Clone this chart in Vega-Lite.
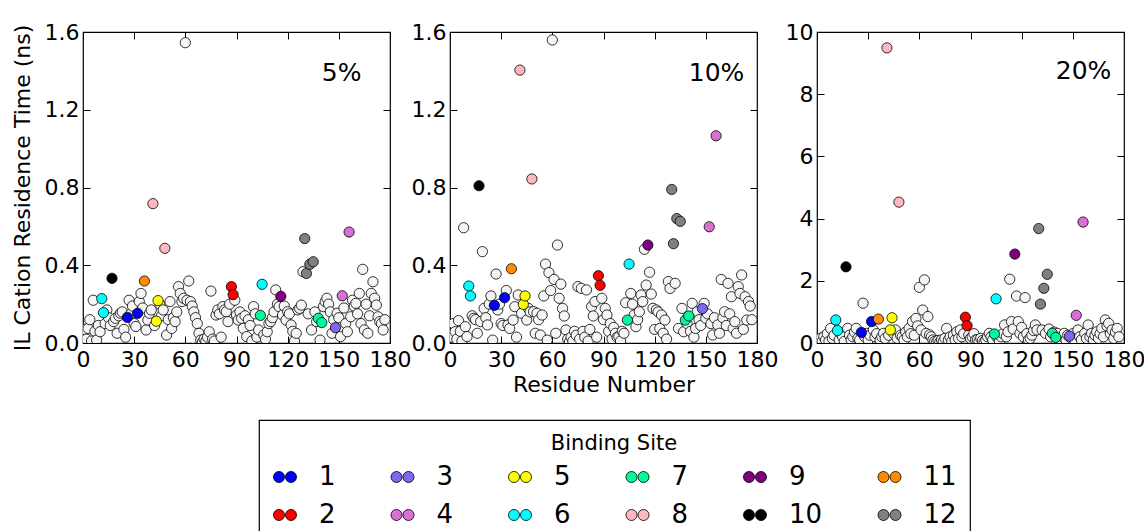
{
 "$schema": "https://vega.github.io/schema/vega-lite/v6.json",
 "background": "white",
 "padding": {"left": 10, "top": 20, "right": 0, "bottom": 0},
 "bounds": "flush",
 "spacing": 60,
 "datasets": {
  "p5": [
   {"r":1,"t":0.07},{"r":2,"t":0.02},{"r":3,"t":0.075},{"r":4,"t":0.12},{"r":5,"t":0.01},{"r":6,"t":0.22},{"r":7,"t":0.06},{"r":8,"t":0.015},{"r":9,"t":0.09},{"r":10,"t":0.058},
   {"r":11,"t":0.228,"s":6},{"r":12,"t":0.156,"s":6},{"r":13,"t":0.10},{"r":14,"t":0.17},{"r":15,"t":0.13},{"r":16,"t":0.09},{"r":17,"t":0.333,"s":10},{"r":18,"t":0.11},{"r":19,"t":0.127},{"r":20,"t":0.05},
   {"r":21,"t":0.14},{"r":22,"t":0.153},{"r":23,"t":0.16},{"r":24,"t":0.07},{"r":25,"t":0.03},{"r":26,"t":0.132,"s":1},{"r":27,"t":0.22},{"r":28,"t":0.15},{"r":29,"t":0.19},{"r":30,"t":0.10},
   {"r":31,"t":0.085},{"r":32,"t":0.153,"s":1},{"r":33,"t":0.213},{"r":34,"t":0.255},{"r":35,"t":0.18},{"r":36,"t":0.319,"s":11},{"r":37,"t":0.067},{"r":38,"t":0.118},{"r":39,"t":0.153},{"r":40,"t":0.17},
   {"r":41,"t":0.717,"s":8},{"r":42,"t":0.09},{"r":43,"t":0.112,"s":5},{"r":44,"t":0.218,"s":5},{"r":45,"t":0.20},{"r":46,"t":0.14},{"r":47,"t":0.17},{"r":48,"t":0.487,"s":8},{"r":49,"t":0.041},{"r":50,"t":0.12},
   {"r":51,"t":0.213},{"r":52,"t":0.075},{"r":53,"t":0.13},{"r":54,"t":0.11},{"r":55,"t":0.16},{"r":56,"t":0.29},{"r":57,"t":0.255},{"r":58,"t":0.213},{"r":59,"t":0.23},{"r":60,"t":1.545},
   {"r":61,"t":0.22},{"r":62,"t":0.319},{"r":63,"t":0.213},{"r":64,"t":0.19},{"r":65,"t":0.16},{"r":66,"t":0.13},{"r":67,"t":0.10},{"r":68,"t":0.05},{"r":69,"t":0.015},{"r":70,"t":0.005},
   {"r":71,"t":0.02},{"r":72,"t":0.01},{"r":73,"t":0.03},{"r":74,"t":0.058},{"r":75,"t":0.267},{"r":76,"t":0.02},{"r":77,"t":0.01},{"r":78,"t":0.144},{"r":79,"t":0.17},{"r":80,"t":0.15},
   {"r":81,"t":0.03},{"r":82,"t":0.187},{"r":83,"t":0.17},{"r":84,"t":0.161},{"r":85,"t":0.11},{"r":86,"t":0.20},{"r":87,"t":0.29,"s":2},{"r":88,"t":0.249,"s":2},{"r":89,"t":0.22},{"r":90,"t":0.144},
   {"r":91,"t":0.118},{"r":92,"t":0.16},{"r":93,"t":0.127},{"r":94,"t":0.075},{"r":95,"t":0.14},{"r":96,"t":0.033},{"r":97,"t":0.12},{"r":98,"t":0.09},{"r":99,"t":0.01},{"r":100,"t":0.187},
   {"r":101,"t":0.15},{"r":102,"t":0.03},{"r":103,"t":0.067},{"r":104,"t":0.142,"s":7},{"r":105,"t":0.302,"s":6},{"r":106,"t":0.041},{"r":107,"t":0.02},{"r":108,"t":0.058},{"r":109,"t":0.10},{"r":110,"t":0.11},
   {"r":111,"t":0.13},{"r":112,"t":0.16},{"r":113,"t":0.273},{"r":114,"t":0.20},{"r":115,"t":0.187},{"r":116,"t":0.24,"s":9},{"r":117,"t":0.144},{"r":118,"t":0.19},{"r":119,"t":0.118},{"r":120,"t":0.161},
   {"r":121,"t":0.15},{"r":122,"t":0.093},{"r":123,"t":0.06},{"r":124,"t":0.01},{"r":125,"t":0.05},{"r":126,"t":0.17},{"r":127,"t":0.178},{"r":128,"t":0.195},{"r":129,"t":0.367},{"r":130,"t":0.537,"s":12},
   {"r":131,"t":0.358,"s":12},{"r":132,"t":0.15},{"r":133,"t":0.405,"s":12},{"r":134,"t":0.067},{"r":135,"t":0.418,"s":12},{"r":136,"t":0.16},{"r":137,"t":0.11},{"r":138,"t":0.127,"s":7},{"r":139,"t":0.015},{"r":140,"t":0.105,"s":7},
   {"r":141,"t":0.187},{"r":142,"t":0.213},{"r":143,"t":0.23},{"r":144,"t":0.20},{"r":145,"t":0.16},{"r":146,"t":0.05},{"r":147,"t":0.12},{"r":148,"t":0.079,"s":3},{"r":149,"t":0.153},{"r":150,"t":0.13},
   {"r":151,"t":0.033},{"r":152,"t":0.243,"s":4},{"r":153,"t":0.18},{"r":154,"t":0.10},{"r":155,"t":0.058},{"r":156,"t":0.571,"s":4},{"r":157,"t":0.135},{"r":158,"t":0.22},{"r":159,"t":0.19},{"r":160,"t":0.204},
   {"r":161,"t":0.15},{"r":162,"t":0.255},{"r":163,"t":0.10},{"r":164,"t":0.379},{"r":165,"t":0.067},{"r":166,"t":0.20},{"r":167,"t":0.05},{"r":168,"t":0.14},{"r":169,"t":0.255},{"r":170,"t":0.315},
   {"r":171,"t":0.23},{"r":172,"t":0.195},{"r":173,"t":0.135},{"r":174,"t":0.11},{"r":175,"t":0.1},{"r":176,"t":0.067},{"r":177,"t":0.12}
  ],
  "p10": [
   {"r":1,"t":0.03},{"r":2,"t":0.10},{"r":3,"t":0.058},{"r":4,"t":0.02},{"r":5,"t":0.115},{"r":6,"t":0.06},{"r":7,"t":0.01},{"r":8,"t":0.593},{"r":9,"t":0.084},{"r":10,"t":0.033},
   {"r":11,"t":0.293,"s":6},{"r":12,"t":0.242,"s":6},{"r":13,"t":0.14},{"r":14,"t":0.127},{"r":15,"t":0.12},{"r":16,"t":0.05},{"r":17,"t":0.809,"s":10},{"r":18,"t":0.11},{"r":19,"t":0.47},{"r":20,"t":0.178},
   {"r":21,"t":0.13},{"r":22,"t":0.093},{"r":23,"t":0.20},{"r":24,"t":0.242},{"r":25,"t":0.015},{"r":26,"t":0.194,"s":1},{"r":27,"t":0.355},{"r":28,"t":0.17},{"r":29,"t":0.20},{"r":30,"t":0.10},
   {"r":31,"t":0.09},{"r":32,"t":0.233,"s":1},{"r":33,"t":0.27},{"r":34,"t":0.093},{"r":35,"t":0.075},{"r":36,"t":0.382,"s":11},{"r":37,"t":0.118},{"r":38,"t":0.187},{"r":39,"t":0.03},{"r":40,"t":0.247},
   {"r":41,"t":1.404,"s":8},{"r":42,"t":0.153},{"r":43,"t":0.199,"s":5},{"r":44,"t":0.242,"s":5},{"r":45,"t":0.118},{"r":46,"t":0.178},{"r":47,"t":0.16},{"r":48,"t":0.844,"s":8},{"r":49,"t":0.161},{"r":50,"t":0.05},
   {"r":51,"t":0.153},{"r":52,"t":0.12},{"r":53,"t":0.041},{"r":54,"t":0.144},{"r":55,"t":0.242},{"r":56,"t":0.406},{"r":57,"t":0.015},{"r":58,"t":0.362},{"r":59,"t":0.27},{"r":60,"t":1.559},
   {"r":61,"t":0.327},{"r":62,"t":0.05},{"r":63,"t":0.504},{"r":64,"t":0.23},{"r":65,"t":0.303},{"r":66,"t":0.178},{"r":67,"t":0.139},{"r":68,"t":0.067},{"r":69,"t":0.02},{"r":70,"t":0.005},
   {"r":71,"t":0.03},{"r":72,"t":0.01},{"r":73,"t":0.06},{"r":74,"t":0.04},{"r":75,"t":0.29},{"r":76,"t":0.02},{"r":77,"t":0.281},{"r":78,"t":0.06},{"r":79,"t":0.03},{"r":80,"t":0.273},
   {"r":81,"t":0.01},{"r":82,"t":0.07},{"r":83,"t":0.187},{"r":84,"t":0.139},{"r":85,"t":0.213},{"r":86,"t":0.03},{"r":87,"t":0.346,"s":2},{"r":88,"t":0.297,"s":2},{"r":89,"t":0.23},{"r":90,"t":0.12},
   {"r":91,"t":0.178},{"r":92,"t":0.144},{"r":93,"t":0.06},{"r":94,"t":0.10},{"r":95,"t":0.02},{"r":96,"t":0.08},{"r":97,"t":0.05},{"r":98,"t":0.03},{"r":99,"t":0.033},{"r":100,"t":0.01},
   {"r":101,"t":0.06},{"r":102,"t":0.05},{"r":103,"t":0.207},{"r":104,"t":0.118,"s":7},{"r":105,"t":0.406,"s":6},{"r":106,"t":0.255},{"r":107,"t":0.20},{"r":108,"t":0.144},{"r":109,"t":0.084},{"r":110,"t":0.12},
   {"r":111,"t":0.161},{"r":112,"t":0.247},{"r":113,"t":0.213},{"r":114,"t":0.482},{"r":115,"t":0.298},{"r":116,"t":0.504,"s":9},{"r":117,"t":0.364},{"r":118,"t":0.252},{"r":119,"t":0.178},{"r":120,"t":0.07},
   {"r":121,"t":0.17},{"r":122,"t":0.16},{"r":123,"t":0.075},{"r":124,"t":0.144},{"r":125,"t":0.05},{"r":126,"t":0.118},{"r":127,"t":0.02},{"r":128,"t":0.316},{"r":129,"t":0.281},{"r":130,"t":0.79,"s":12},
   {"r":131,"t":0.511,"s":12},{"r":132,"t":0.307},{"r":133,"t":0.64,"s":12},{"r":134,"t":0.075},{"r":135,"t":0.626,"s":12},{"r":136,"t":0.178},{"r":137,"t":0.058},{"r":138,"t":0.118,"s":7},{"r":139,"t":0.10},{"r":140,"t":0.139,"s":7},
   {"r":141,"t":0.06},{"r":142,"t":0.204},{"r":143,"t":0.03},{"r":144,"t":0.075},{"r":145,"t":0.161},{"r":146,"t":0.12},{"r":147,"t":0.09},{"r":148,"t":0.177,"s":3},{"r":149,"t":0.204},{"r":150,"t":0.127},
   {"r":151,"t":0.15},{"r":152,"t":0.598,"s":4},{"r":153,"t":0.10},{"r":154,"t":0.041},{"r":155,"t":0.13},{"r":156,"t":1.066,"s":4},{"r":157,"t":0.093},{"r":158,"t":0.05},{"r":159,"t":0.327},{"r":160,"t":0.13},
   {"r":161,"t":0.161},{"r":162,"t":0.09},{"r":163,"t":0.307},{"r":164,"t":0.15},{"r":165,"t":0.238},{"r":166,"t":0.075},{"r":167,"t":0.11},{"r":168,"t":0.05},{"r":169,"t":0.29},{"r":170,"t":0.255},
   {"r":171,"t":0.35},{"r":172,"t":0.07},{"r":173,"t":0.238},{"r":174,"t":0.118},{"r":175,"t":0.213},{"r":176,"t":0.19},{"r":177,"t":0.12}
  ],
  "p20": [
   {"r":1,"t":0.1},{"r":2,"t":0.15},{"r":3,"t":0.05},{"r":4,"t":0.2},{"r":5,"t":0.1},{"r":6,"t":0.3},{"r":7,"t":0.05},{"r":8,"t":0.47},{"r":9,"t":0.15},{"r":10,"t":0.25},
   {"r":11,"t":0.74,"s":6},{"r":12,"t":0.40,"s":6},{"r":13,"t":0.1},{"r":14,"t":0.3},{"r":15,"t":0.2},{"r":16,"t":0.05},{"r":17,"t":2.45,"s":10},{"r":18,"t":0.47},{"r":19,"t":0.25},{"r":20,"t":0.1},
   {"r":21,"t":0.2},{"r":22,"t":0.35},{"r":23,"t":0.47},{"r":24,"t":0.15},{"r":25,"t":0.1},{"r":26,"t":0.34,"s":1},{"r":27,"t":1.28},{"r":28,"t":0.2},{"r":29,"t":0.31},{"r":30,"t":0.1},
   {"r":31,"t":0.25},{"r":32,"t":0.69,"s":1},{"r":33,"t":0.42},{"r":34,"t":0.2},{"r":35,"t":0.3},{"r":36,"t":0.77,"s":11},{"r":37,"t":0.1},{"r":38,"t":0.2},{"r":39,"t":0.31},{"r":40,"t":0.15},
   {"r":41,"t":9.49,"s":8},{"r":42,"t":0.25},{"r":43,"t":0.42,"s":5},{"r":44,"t":0.81,"s":5},{"r":45,"t":0.3},{"r":46,"t":0.42},{"r":47,"t":0.15},{"r":48,"t":4.53,"s":8},{"r":49,"t":0.25},{"r":50,"t":0.2},
   {"r":51,"t":0.1},{"r":52,"t":0.35},{"r":53,"t":0.2},{"r":54,"t":0.47},{"r":55,"t":0.3},{"r":56,"t":0.69},{"r":57,"t":0.25},{"r":58,"t":0.79},{"r":59,"t":0.55},{"r":60,"t":1.79},
   {"r":61,"t":0.42},{"r":62,"t":1.06},{"r":63,"t":2.03},{"r":64,"t":0.31},{"r":65,"t":0.85},{"r":66,"t":0.26},{"r":67,"t":0.2},{"r":68,"t":0.1},{"r":69,"t":0.05},{"r":70,"t":0.02},
   {"r":71,"t":0.08},{"r":72,"t":0.03},{"r":73,"t":0.1},{"r":74,"t":0.05},{"r":75,"t":0.15},{"r":76,"t":0.47},{"r":77,"t":0.1},{"r":78,"t":0.2},{"r":79,"t":0.05},{"r":80,"t":0.25},
   {"r":81,"t":0.1},{"r":82,"t":0.36},{"r":83,"t":0.15},{"r":84,"t":0.42},{"r":85,"t":0.2},{"r":86,"t":0.3},{"r":87,"t":0.83,"s":2},{"r":88,"t":0.56,"s":2},{"r":89,"t":0.26},{"r":90,"t":0.15},
   {"r":91,"t":0.2},{"r":92,"t":0.3},{"r":93,"t":0.1},{"r":94,"t":0.1},{"r":95,"t":0.05},{"r":96,"t":0.15},{"r":97,"t":0.08},{"r":98,"t":0.03},{"r":99,"t":0.1},{"r":100,"t":0.2},
   {"r":101,"t":0.31},{"r":102,"t":0.2},{"r":103,"t":0.1},{"r":104,"t":0.29,"s":7},{"r":105,"t":1.42,"s":6},{"r":106,"t":0.15},{"r":107,"t":0.05},{"r":108,"t":0.2},{"r":109,"t":0.3},{"r":110,"t":0.58},
   {"r":111,"t":0.2},{"r":112,"t":0.36},{"r":113,"t":2.05},{"r":114,"t":0.69},{"r":115,"t":0.45},{"r":116,"t":2.86,"s":9},{"r":117,"t":1.51},{"r":118,"t":0.69},{"r":119,"t":0.31},{"r":120,"t":0.5},
   {"r":121,"t":0.2},{"r":122,"t":1.46},{"r":123,"t":0.3},{"r":124,"t":0.1},{"r":125,"t":0.15},{"r":126,"t":0.25},{"r":127,"t":0.4},{"r":128,"t":0.58},{"r":129,"t":0.42},{"r":130,"t":3.68,"s":12},
   {"r":131,"t":1.25,"s":12},{"r":132,"t":0.42},{"r":133,"t":1.76,"s":12},{"r":134,"t":0.31},{"r":135,"t":2.21,"s":12},{"r":136,"t":0.45},{"r":137,"t":0.2},{"r":138,"t":0.31,"s":7},{"r":139,"t":0.35},{"r":140,"t":0.18,"s":7},
   {"r":141,"t":0.31},{"r":142,"t":0.15},{"r":143,"t":0.1},{"r":144,"t":0.2},{"r":145,"t":0.31},{"r":146,"t":0.1},{"r":147,"t":0.25},{"r":148,"t":0.22,"s":3},{"r":149,"t":0.15},{"r":150,"t":0.3},
   {"r":151,"t":0.1},{"r":152,"t":0.89,"s":4},{"r":153,"t":0.42},{"r":154,"t":0.2},{"r":155,"t":0.1},{"r":156,"t":3.89,"s":4},{"r":157,"t":0.31},{"r":158,"t":0.15},{"r":159,"t":0.58},{"r":160,"t":0.2},
   {"r":161,"t":0.31},{"r":162,"t":0.1},{"r":163,"t":0.25},{"r":164,"t":0.36},{"r":165,"t":0.15},{"r":166,"t":0.3},{"r":167,"t":0.47},{"r":168,"t":0.2},{"r":169,"t":0.74},{"r":170,"t":0.55},
   {"r":171,"t":0.63},{"r":172,"t":0.3},{"r":173,"t":0.42},{"r":174,"t":0.15},{"r":175,"t":0.35},{"r":176,"t":0.47},{"r":177,"t":0.2}
  ]
 },
 "hconcat": [
  {
   "width": 307, "height": 311,
   "data": {"name": "p5"},
   "resolve": {"axis": {"x": "independent", "y": "independent"}},
   "layer": [
    {
     "transform": [{"filter": "!isValid(datum.s)"}],
     "mark": {"type": "point", "filled": true, "size": 105, "fill": "#f5f5f5", "stroke": "black", "strokeWidth": 0.8, "opacity": 1, "clip": true},
     "encoding": {
      "x": {"field": "r", "type": "quantitative", "scale": {"domain": [0, 180], "nice": false}, "axis": {"orient": "bottom", "values": [0, 30, 60, 90, 120, 150, 180], "title": null}},
      "y": {"field": "t", "type": "quantitative", "scale": {"domain": [0, 1.6], "nice": false}, "axis": {"orient": "left", "values": [0, 0.4, 0.8, 1.2, 1.6], "format": ".1f", "title": "IL Cation Residence Time (ns)"}}
     }
    },
    {
     "transform": [{"filter": "isValid(datum.s)"}],
     "mark": {"type": "point", "filled": true, "size": 105, "stroke": "black", "strokeWidth": 0.8, "opacity": 1, "clip": true},
     "encoding": {
      "x": {"field": "r", "type": "quantitative", "axis": {"orient": "top", "values": [0, 30, 60, 90, 120, 150, 180], "labels": false, "title": null}},
      "y": {"field": "t", "type": "quantitative", "axis": {"orient": "right", "values": [0, 0.4, 0.8, 1.2, 1.6], "labels": false, "title": null}},
      "fill": {"field": "s", "type": "nominal",
       "scale": {"domain": [1, 2, 3, 4, 5, 6, 7, 8, 9, 10, 11, 12], "range": ["#0000ff", "#ff0000", "#7b68ee", "#da70d6", "#ffff00", "#00ffff", "#00fa9a", "#ffb6c1", "#800080", "#000000", "#ff8c00", "#808080"]},
       "legend": {"title": "Binding Site", "orient": "none", "legendX": 176, "legendY": 388, "columns": 6}}
     }
    },
    {
     "data": {"values": [{}]},
     "mark": {"type": "text", "align": "left", "baseline": "alphabetic", "fontSize": 25, "font": "DejaVu Sans", "color": "black"},
     "encoding": {
      "x": {"datum": 140, "type": "quantitative", "axis": null},
      "y": {"datum": 1.348, "type": "quantitative", "axis": null},
      "text": {"value": "5%"}
     }
    }
   ]
  },
  {
   "width": 307, "height": 311,
   "data": {"name": "p10"},
   "resolve": {"axis": {"x": "independent", "y": "independent"}},
   "layer": [
    {
     "transform": [{"filter": "!isValid(datum.s)"}],
     "mark": {"type": "point", "filled": true, "size": 105, "fill": "#f5f5f5", "stroke": "black", "strokeWidth": 0.8, "opacity": 1, "clip": true},
     "encoding": {
      "x": {"field": "r", "type": "quantitative", "scale": {"domain": [0, 180], "nice": false}, "axis": {"orient": "bottom", "values": [0, 30, 60, 90, 120, 150, 180], "title": "Residue Number"}},
      "y": {"field": "t", "type": "quantitative", "scale": {"domain": [0, 1.6], "nice": false}, "axis": {"orient": "left", "values": [0, 0.4, 0.8, 1.2, 1.6], "format": ".1f", "title": null}}
     }
    },
    {
     "transform": [{"filter": "isValid(datum.s)"}],
     "mark": {"type": "point", "filled": true, "size": 105, "stroke": "black", "strokeWidth": 0.8, "opacity": 1, "clip": true},
     "encoding": {
      "x": {"field": "r", "type": "quantitative", "axis": {"orient": "top", "values": [0, 30, 60, 90, 120, 150, 180], "labels": false, "title": null}},
      "y": {"field": "t", "type": "quantitative", "axis": {"orient": "right", "values": [0, 0.4, 0.8, 1.2, 1.6], "labels": false, "title": null}},
      "fill": {"field": "s", "type": "nominal",
       "scale": {"domain": [1, 2, 3, 4, 5, 6, 7, 8, 9, 10, 11, 12], "range": ["#0000ff", "#ff0000", "#7b68ee", "#da70d6", "#ffff00", "#00ffff", "#00fa9a", "#ffb6c1", "#800080", "#000000", "#ff8c00", "#808080"]},
       "legend": {"title": "Binding Site", "orient": "none", "legendX": 176, "legendY": 388, "columns": 6}}
     }
    },
    {
     "data": {"values": [{}]},
     "mark": {"type": "text", "align": "left", "baseline": "alphabetic", "fontSize": 25, "font": "DejaVu Sans", "color": "black"},
     "encoding": {
      "x": {"datum": 140, "type": "quantitative", "axis": null},
      "y": {"datum": 1.348, "type": "quantitative", "axis": null},
      "text": {"value": "10%"}
     }
    }
   ]
  },
  {
   "width": 307, "height": 311,
   "data": {"name": "p20"},
   "resolve": {"axis": {"x": "independent", "y": "independent"}},
   "layer": [
    {
     "transform": [{"filter": "!isValid(datum.s)"}],
     "mark": {"type": "point", "filled": true, "size": 105, "fill": "#f5f5f5", "stroke": "black", "strokeWidth": 0.8, "opacity": 1, "clip": true},
     "encoding": {
      "x": {"field": "r", "type": "quantitative", "scale": {"domain": [0, 180], "nice": false}, "axis": {"orient": "bottom", "values": [0, 30, 60, 90, 120, 150, 180], "title": null}},
      "y": {"field": "t", "type": "quantitative", "scale": {"domain": [0, 10], "nice": false}, "axis": {"orient": "left", "values": [0, 2, 4, 6, 8, 10], "format": "d", "title": null}}
     }
    },
    {
     "transform": [{"filter": "isValid(datum.s)"}],
     "mark": {"type": "point", "filled": true, "size": 105, "stroke": "black", "strokeWidth": 0.8, "opacity": 1, "clip": true},
     "encoding": {
      "x": {"field": "r", "type": "quantitative", "axis": {"orient": "top", "values": [0, 30, 60, 90, 120, 150, 180], "labels": false, "title": null}},
      "y": {"field": "t", "type": "quantitative", "axis": {"orient": "right", "values": [0, 2, 4, 6, 8, 10], "labels": false, "title": null}},
      "fill": {"field": "s", "type": "nominal",
       "scale": {"domain": [1, 2, 3, 4, 5, 6, 7, 8, 9, 10, 11, 12], "range": ["#0000ff", "#ff0000", "#7b68ee", "#da70d6", "#ffff00", "#00ffff", "#00fa9a", "#ffb6c1", "#800080", "#000000", "#ff8c00", "#808080"]},
       "legend": {"title": "Binding Site", "orient": "none", "legendX": 176, "legendY": 388, "columns": 6}}
     }
    },
    {
     "data": {"values": [{}]},
     "mark": {"type": "text", "align": "left", "baseline": "alphabetic", "fontSize": 25, "font": "DejaVu Sans", "color": "black"},
     "encoding": {
      "x": {"datum": 140, "type": "quantitative", "axis": null},
      "y": {"datum": 8.48, "type": "quantitative", "axis": null},
      "text": {"value": "20%"}
     }
    }
   ]
  }
 ],
 "config": {
  "font": "DejaVu Sans",
  "view": {"stroke": "black", "strokeWidth": 1.2},
  "axis": {
   "domain": false, "grid": false,
   "tickColor": "black", "tickSize": -7, "tickWidth": 1,
   "labelFont": "DejaVu Sans", "labelFontSize": 22, "labelColor": "black", "labelFlush": false, "labelOverlap": false,
   "titleFont": "DejaVu Sans", "titleFontSize": 22, "titleFontWeight": "normal", "titleColor": "black"
  },
  "axisBottom": {"labelPadding": 13, "titlePadding": 4},
  "axisLeft": {"labelPadding": 11, "titlePadding": 10},
  "legend": {
   "titleFont": "DejaVu Sans", "titleFontSize": 21, "titleFontWeight": "normal", "titleColor": "black", "titleAnchor": "middle", "titlePadding": 10,
   "labelFont": "DejaVu Sans", "labelFontSize": 26, "labelColor": "black", "labelOffset": 21, "labelLimit": 0,
   "symbolType": "M -0.04 0 C -0.04 0.254 -0.246 0.46 -0.5 0.46 C -0.754 0.46 -0.96 0.254 -0.96 0 C -0.96 -0.254 -0.754 -0.46 -0.5 -0.46 C -0.246 -0.46 -0.04 -0.254 -0.04 0 Z M 0.96 0 C 0.96 0.254 0.754 0.46 0.5 0.46 C 0.246 0.46 0.04 0.254 0.04 0 C 0.04 -0.254 0.246 -0.46 0.5 -0.46 C 0.754 -0.46 0.96 -0.254 0.96 0 Z",
   "symbolSize": 576, "symbolStrokeColor": "black", "symbolStrokeWidth": 0.8, "symbolOpacity": 1,
   "columnPadding": 52.5, "rowPadding": 12, "padding": 13, "gridAlign": "each",
   "strokeColor": "black", "strokeWidth": 1.2
  }
 }
}
